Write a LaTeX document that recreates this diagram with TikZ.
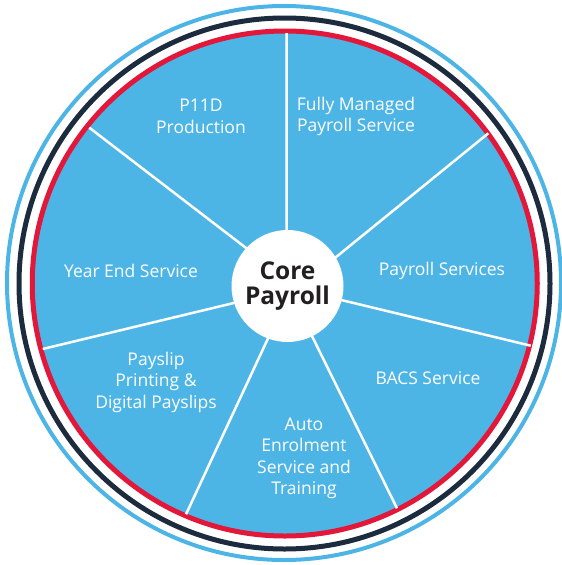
\documentclass[tikz,border=0pt]{standalone}
\usepackage{fontspec}
\setmainfont{Open Sans}
\definecolor{wheelblue}{HTML}{4DB5E6}
\definecolor{ringnavy}{HTML}{1C2B3E}
\definecolor{ringred}{HTML}{E2173A}
\definecolor{coretext}{HTML}{231F20}
\begin{document}
\begin{tikzpicture}[x=1pt, y=-1pt, spoke/.style={draw=white, line width=2.5pt},service node/.style={align=center, text=white, inner sep=0pt, font=\fontsize{17.5}{21.5}\selectfont},core node/.style={circle, fill=white, minimum size=112pt, inner sep=0pt, align=center, text=coretext, font=\fontsize{24.5}{25.5}\selectfont\bfseries}]
\useasboundingbox (0,0) rectangle (562,565);
% rings
\draw[wheelblue, line width=4pt] (284,283) circle (277pt);
\draw[ringnavy, line width=5pt] (284.5,283.5) circle (265.5pt);
\draw[ringred, fill=wheelblue, line width=5pt] (284.75,283.5) circle (252.5pt);
\begin{scope}
\coordinate (i1) at (286.7,240);
\coordinate (o1) at (286.5,33);
\coordinate (i2) at (330,262);
\coordinate (o2) at (488.3,133.3);
\coordinate (i3) at (335,298.5);
\coordinate (o3) at (530.7,345.7);
\coordinate (i4) at (308,328);
\coordinate (o4) at (397,508.3);
\coordinate (i5) at (271,332);
\coordinate (o5) at (186,514.3);
\coordinate (i6) at (240,301.5);
\coordinate (o6) at (42.7,349);
\coordinate (i7) at (250,251);
\coordinate (o7) at (89.3,127.7);
%\coordinate (i) at (,);
\end{scope}
\begin{scope}
\draw (i1) edge[spoke] (o1);
\draw (i2) edge[spoke] (o2);
\draw (i3) edge[spoke] (o3);
\draw (i4) edge[spoke] (o4);
\draw (i5) edge[spoke] (o5);
\draw (i6) edge[spoke] (o6);
\draw (i7) edge[spoke] (o7);
\end{scope}
\node[core node] (core) at (287.5,286) {Core\\Payroll};
\begin{scope}[every node/.style={service node}]
\node (p11d) at (201,116.5) {P11D\\Production};
\node (managed) at (356,116.5) {Fully Managed\\Payroll Service};
\node (yearend) at (131,271) {Year End Service};
\node (services) at (442,271) {Payroll Services};
\node (bacs) at (428,378) {BACS Service};
\node (payslip) at (156,382) {Payslip\\Printing \&\\Digital Payslips};
\node (enrol) at (304,458.5) {Auto\\Enrolment\\Service and\\Training};
\end{scope}
\end{tikzpicture}
\end{document}
